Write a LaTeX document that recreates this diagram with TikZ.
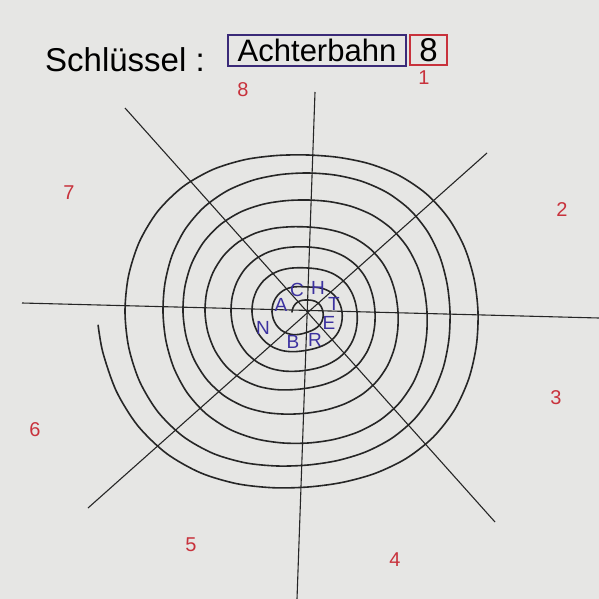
\documentclass[tikz,border=0pt]{standalone}
\usepackage{fontspec}
\setmainfont{Liberation Sans}
\definecolor{paper}{HTML}{E6E6E4}
\definecolor{redink}{HTML}{C8323C}
\definecolor{blueink}{HTML}{3C32A0}
\definecolor{boxink}{HTML}{3A2A78}
\def\R{{16,12,15,20,36,25,34,38,56,44,49,58,77,65,67,76,103,85,90,101,125,112,119,131,145,139,142,153,183,157,170,175,211}}
\tikzset{
  axis/.style={line width=1.1pt, black!85},
  spiral/.style={line width=1.6pt, black!85, line cap=round, line join=round},
  num/.style={text=redink, font=\fontsize{20}{20}\selectfont},
  letter/.style={text=blueink, font=\fontsize{19}{19}\selectfont, inner sep=0pt},
}
\begin{document}
\begin{tikzpicture}[x=1pt,y=1pt]
\fill[paper] (0,0) rectangle (599,-599);
\useasboundingbox (0,0) rectangle (599,-599);
% axes
\coordinate (vt) at (315,-92);   \coordinate (vb) at (297,-599);
\coordinate (hl) at (22,-303);   \coordinate (hr) at (599,-318);
\coordinate (d1a) at (125,-108); \coordinate (d1b) at (495,-522);
\coordinate (d2a) at (88,-508);  \coordinate (d2b) at (487,-153);
\draw[axis] (vt) -- (vb);
\draw[axis] (hl) -- (hr);
\draw[axis] (d1a) -- (d1b);
\draw[axis] (d2a) -- (d2b);
% spiral points (Catmull-Rom interpolation of radii on the axes)
\gdef\pts{}
\foreach \m in {0,...,256}{
  \pgfmathsetmacro\t{min(\m/8,31.96)}
  \pgfmathtruncatemacro\k{int(\t)}
  \pgfmathsetmacro\f{\t-\k}
  \pgfmathtruncatemacro\ia{max(\k-1,0)}
  \pgfmathtruncatemacro\ib{\k}
  \pgfmathtruncatemacro\ic{min(\k+1,32)}
  \pgfmathtruncatemacro\id{min(\k+2,32)}
  \pgfmathsetmacro\pa{\R[\ia]}
  \pgfmathsetmacro\pb{\R[\ib]}
  \pgfmathsetmacro\pc{\R[\ic]}
  \pgfmathsetmacro\pd{\R[\id]}
  \pgfmathsetmacro\rad{0.5*(2*\pb+(-\pa+\pc)*\f+(2*\pa-5*\pb+4*\pc-\pd)*\f*\f+(-\pa+3*\pb-3*\pc+\pd)*\f*\f*\f)*(1+0.035*(1-cos(360*\f))/2)}
  \pgfmathsetmacro\ang{180-90*\t}
  \pgfmathsetmacro\px{308+\rad*cos(\ang)}
  \pgfmathsetmacro\py{-312+\rad*sin(\ang)}
  \xdef\pts{\pts (\px,\py)}
}
\edef\drawspiral{\noexpand\draw[spiral] plot[smooth] coordinates {\pts};}
\drawspiral
% title
\node[anchor=base west, font=\fontsize{33}{33}\selectfont, inner sep=0pt] (title) at (45,-72) {Schlüssel :};
\node[draw=boxink, line width=1.3pt, minimum width=178pt, minimum height=31pt, inner sep=0pt,
      font=\fontsize{31}{31}\selectfont] (key) at (317,-50.5) {Achterbahn};
\node[draw=redink, line width=1.3pt, minimum width=37pt, minimum height=30pt, inner sep=0pt,
      font=\fontsize{33}{33}\selectfont] (shift) at (428.5,-50) {8};
% sector numbers
\node[num] (n8) at (243,-90) {8};
\node[num] (n1) at (424,-78) {1};
\node[num] (n2) at (562,-210) {2};
\node[num] (n3) at (556,-398) {3};
\node[num] (n4) at (395,-560) {4};
\node[num] (n5) at (191,-545) {5};
\node[num] (n6) at (35,-430) {6};
\node[num] (n7) at (69,-193) {7};
% centre letters
\node[letter] (lA) at (281,-305) {A};
\node[letter] (lC) at (297,-290) {C};
\node[letter] (lH) at (318,-288) {H};
\node[letter] (lT) at (334,-304) {T};
\node[letter] (lE) at (329,-323) {E};
\node[letter] (lR) at (315,-340) {R};
\node[letter] (lB) at (293,-342) {B};
\node[letter] (lN) at (263,-328) {N};
\end{tikzpicture}
\end{document}
